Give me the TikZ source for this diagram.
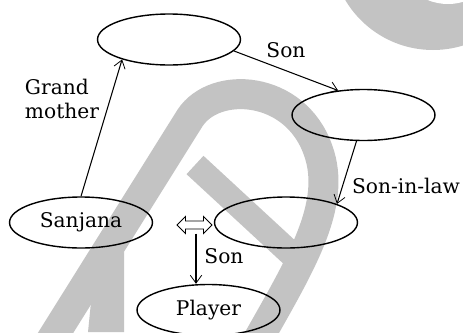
\documentclass[tikz,border=0pt]{standalone}
\usepackage{fontspec}
\setmainfont{DejaVu Serif}
\usetikzlibrary{shapes.geometric,arrows.meta}
\definecolor{wmark}{RGB}{195,195,195}
\begin{document}
\begin{tikzpicture}[x=0.02cm,y=-0.02cm,font=\fontsize{11.5}{13.7}\selectfont]
            \tikzstyle{person}=[ellipse,draw,line width=0.8pt,minimum width=2.86cm,minimum height=1.02cm,inner sep=0pt]
            \tikzstyle{arrow}=[line width=0.6pt,-{Straight Barb[length=4.5pt,width=6.5pt,line width=0.45pt]}]
            \useasboundingbox (0,0) rectangle (463,332);
            % watermark
            \begin{scope}
            \clip (0,0) rectangle (463,332);
            \draw[wmark,line width=0.6cm] (48,345) -- (190,118) .. controls (215,80) and (295,85) .. (318,150) .. controls (338,205) and (300,265) .. (255,345);
            \draw[wmark,line width=0.5cm] (195,165) -- (300,262);
            \fill[wmark] (433,-52) circle[radius=102];
            \fill[white] (448,-50) circle[radius=54];
            \fill[wmark] (88,332) -- (95,262) -- (124,252) -- (124,332) -- cycle;
            \end{scope}
            % people
            \node[person] (gmother) at (169,39.5) {};
            \node[person] (gson) at (363.5,115) {};
            \node[person] (husband) at (286,222.5) {};
            \node[person] (sanjana) at (81,222.5) {Sanjana};
            \node[person] (player) at (208.5,310) {Player};
            % relations
            \node[align=left] (lgrand) at (62,99) {Grand\\mother};
            \node (lson) at (286,50) {Son};
            \node (llaw) at (406,186) {Son-in-law};
            \node (lson2) at (224,256) {Son};
            % married sign
            \coordinate (link) at (194.5,225);
            \coordinate (linkb) at (196,233.5);
            \draw[line width=0.5pt] (link) +(-17.5,0) -- +(-9,-8.5) -- +(-9,-4) -- +(9,-4) -- +(9,-8.5) -- +(17.5,0)
                -- +(9,8.5) -- +(9,4) -- +(-9,4) -- +(-9,8.5) -- cycle;
            \draw [arrow] (sanjana.north) -- (gmother.203);
            \draw [arrow] (gmother.-10) -- (gson.136);
            \draw [arrow] (gson.255) -- (husband.20);
            \draw [arrow] (linkb) -- (linkb |- player.north);
        \end{tikzpicture}
\end{document}
